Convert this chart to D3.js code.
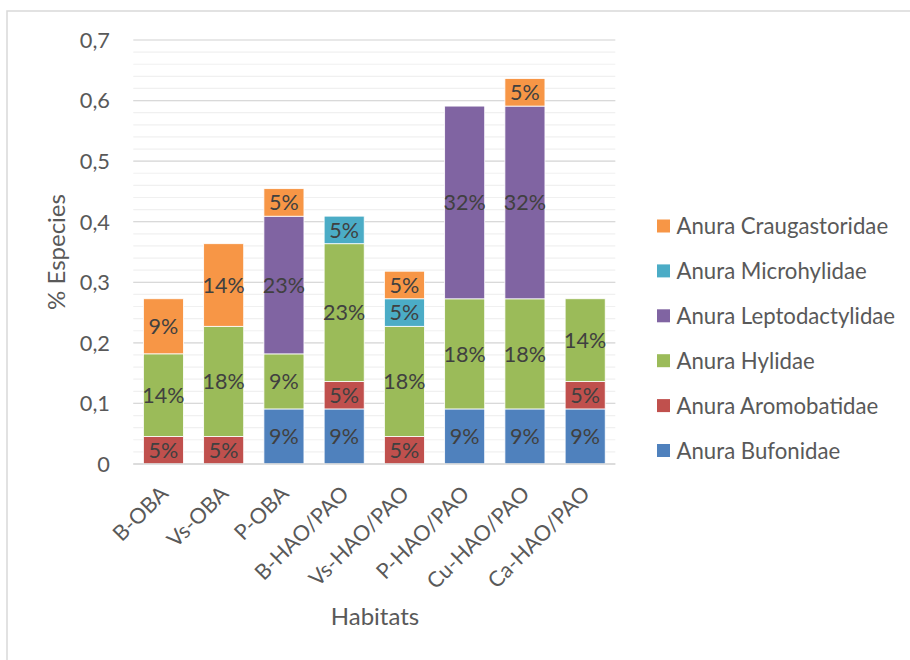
<!DOCTYPE html>
<html><head><meta charset="utf-8">
<script src="https://cdn.jsdelivr.net/npm/d3@7"></script>
<style>
html,body{margin:0;padding:0;background:#fff;}
svg{display:block;}
text{font-family:Lato,"Open Sans",sans-serif;}
</style></head>
<body><svg id="c" width="910" height="660"></svg>
<script>
const categories = ["B-OBA","Vs-OBA","P-OBA","B-HAO/PAO","Vs-HAO/PAO","P-HAO/PAO","Cu-HAO/PAO","Ca-HAO/PAO"];
const bufonidae       = [0, 0, 0.0909, 0.0909, 0, 0.0909, 0.0909, 0.0909];
const aromobatidae    = [0.0455, 0.0455, 0, 0.0455, 0.0455, 0, 0, 0.0455];
const hylidae         = [0.1364, 0.1818, 0.0909, 0.2273, 0.1818, 0.1818, 0.1818, 0.1364];
const leptodactylidae = [0, 0, 0.2273, 0, 0, 0.3182, 0.3182, 0];
const microhylidae    = [0, 0, 0, 0.0455, 0.0455, 0, 0, 0];
const craugastoridae  = [0.0909, 0.1364, 0.0455, 0, 0.0455, 0, 0.0455, 0];
const seriesNames = ["Anura Bufonidae","Anura Aromobatidae","Anura Hylidae","Anura Leptodactylidae","Anura Microhylidae","Anura Craugastoridae"];
const seriesValues = [bufonidae, aromobatidae, hylidae, leptodactylidae, microhylidae, craugastoridae];
const seriesColors = ["#4F81BD","#C0504D","#9BBB59","#8064A2","#4BACC6","#F79646"];
const yTicks = [0,0.1,0.2,0.3,0.4,0.5,0.6,0.7];
const yTitle = "% Especies";
const xTitle = "Habitats";

const svg = d3.select("#c");
const textColor = "#595959";

// chart border
svg.append("rect").attr("x",7).attr("y",11).attr("width",920).attr("height",700)
  .attr("fill","none").attr("stroke","#d9d9d9").attr("stroke-width",1.5);

const plot = {left:133.3, right:615.3, top:40, bottom:464};
const x = d3.scaleBand().domain(categories).range([plot.left, plot.right]).paddingInner(0.335).paddingOuter(0.1675);
const y = d3.scaleLinear().domain([0,0.7]).range([plot.bottom, plot.top]);

// minor gridlines
const minor = d3.range(0, 0.7001, 0.02);
svg.append("g").selectAll("line").data(minor).join("line")
  .attr("x1",plot.left).attr("x2",plot.right)
  .attr("y1",d=>y(d)).attr("y2",d=>y(d))
  .attr("stroke","#f0f0f0").attr("stroke-width",1.2);
// major gridlines
svg.append("g").selectAll("line").data(yTicks).join("line")
  .attr("x1",plot.left).attr("x2",plot.right)
  .attr("y1",d=>y(d)).attr("y2",d=>y(d))
  .attr("stroke","#d9d9d9").attr("stroke-width",1.2);

// y tick labels
svg.append("g").selectAll("text").data(yTicks).join("text")
  .attr("x",110).attr("y",d=>y(d)).attr("dy","0.36em")
  .attr("text-anchor","end").attr("font-size",21.8).attr("fill",textColor)
  .text(d=>d===0?"0":String(d).replace(".",","));

// stack
const table = categories.map((c,i)=>{
  const o = {cat:c};
  seriesNames.forEach((s,j)=>o[s]=seriesValues[j][i]);
  return o;
});
const stack = d3.stack().keys(seriesNames)(table);

const gBars = svg.append("g");
stack.forEach((layer,j)=>{
  const g = gBars.append("g").attr("fill",seriesColors[j]);
  g.selectAll("rect").data(layer.filter(d=>d[1]-d[0]>0)).join("rect")
    .attr("x",d=>x(d.data.cat)).attr("width",x.bandwidth())
    .attr("y",d=>y(d[1])).attr("height",d=>y(d[0])-y(d[1]))
    .attr("stroke","#ffffff").attr("stroke-width",0.8);
});
stack.forEach((layer,j)=>{
  gBars.append("g").selectAll("text").data(layer.filter(d=>d[1]-d[0]>0)).join("text")
    .attr("x",d=>x(d.data.cat)+x.bandwidth()/2)
    .attr("y",d=>(y(d[0])+y(d[1]))/2).attr("dy","0.36em")
    .attr("text-anchor","middle").attr("font-size",21.5).attr("fill","#404040")
    .text(d=>Math.round((d[1]-d[0])*100)+"%");
});

// baseline
svg.append("line").attr("x1",plot.left).attr("x2",plot.right)
  .attr("y1",y(0)).attr("y2",y(0)).attr("stroke","#d9d9d9").attr("stroke-width",1.5);

// x labels
svg.append("g").selectAll("text").data(categories).join("text")
  .attr("transform",d=>`translate(${x(d)+x.bandwidth()/2+6},495) rotate(-45)`)
  .attr("text-anchor","end").attr("font-size",21.5).attr("fill",textColor)
  .text(d=>d);

// axis titles
svg.append("text").attr("x",375).attr("y",625).attr("text-anchor","middle")
  .attr("font-size",24).attr("fill",textColor).text(xTitle);
svg.append("text").attr("transform","translate(65,252) rotate(-90)")
  .attr("text-anchor","middle").attr("font-size",24).attr("fill",textColor).text(yTitle);

// legend (top to bottom: reverse order)
const legendItems = seriesNames.map((n,i)=>({name:n,color:seriesColors[i]})).reverse();
const lg = svg.append("g").selectAll("g").data(legendItems).join("g")
  .attr("transform",(d,i)=>`translate(657,${226+i*44.9})`);
lg.append("rect").attr("x",0).attr("y",-6.5).attr("width",13).attr("height",13).attr("fill",d=>d.color);
lg.append("text").attr("x",19.5).attr("y",0).attr("dy","0.36em")
  .attr("font-size",22.2).attr("fill",textColor).text(d=>d.name);
</script></body></html>
